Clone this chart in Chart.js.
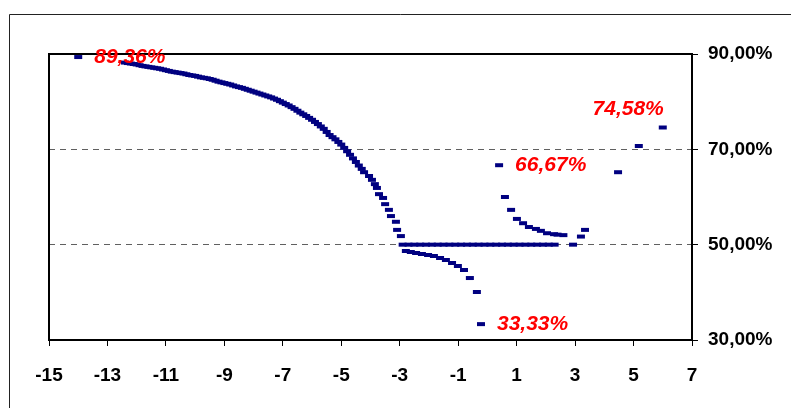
<!DOCTYPE html>
<html>
<head>
<meta charset="utf-8">
<script src="https://cdn.jsdelivr.net/npm/chart.js@4"></script>
<style>
  html, body { margin: 0; padding: 0; background: #fff; }
  #wrap { width: 791px; height: 408px; }
</style>
</head>
<body>
<div id="wrap"><canvas id="chart" width="791" height="408"></canvas></div>
<script>
// data
const firstX = [-14];
const firstY = [89.36];

const curveX = [-12.4, -12.3, -12.2, -12.1, -12.0, -11.9, -11.8, -11.7, -11.6, -11.5,
  -11.4, -11.3, -11.2, -11.1, -11.0, -10.9, -10.8, -10.7, -10.6, -10.5,
  -10.4, -10.3, -10.2, -10.1, -10.0, -9.9, -9.8, -9.7, -9.6, -9.5,
  -9.4, -9.3, -9.2, -9.1, -9.0, -8.9, -8.8, -8.7, -8.6, -8.5,
  -8.4, -8.3, -8.2, -8.1, -8.0, -7.9, -7.8, -7.7, -7.6, -7.5,
  -7.4, -7.3, -7.2, -7.1, -7.0, -6.9, -6.8, -6.7, -6.6, -6.5,
  -6.4, -6.3, -6.2, -6.1, -6.0, -5.9, -5.8, -5.7, -5.6, -5.5,
  -5.4, -5.3, -5.2, -5.1, -5.0, -4.9, -4.8, -4.7, -4.6, -4.5,
  -4.4, -4.3, -4.22,
  -4.05, -3.95, -3.85, -3.78, -3.71, -3.57, -3.50, -3.37, -3.30, -3.13, -3.09, -2.96];
const curveY = [88.2, 88.1, 88.0, 87.9, 87.8, 87.65, 87.5, 87.4, 87.3, 87.2,
  87.1, 87.0, 86.9, 86.75, 86.6, 86.45, 86.3, 86.2, 86.1, 86.0,
  85.9, 85.75, 85.6, 85.5, 85.4, 85.25, 85.1, 85.0, 84.9, 84.75,
  84.6, 84.4, 84.2, 84.05, 83.9, 83.75, 83.6, 83.4, 83.2, 83.05,
  82.9, 82.7, 82.5, 82.3, 82.1, 81.9, 81.7, 81.5, 81.3, 81.1,
  80.9, 80.65, 80.4, 80.1, 79.8, 79.5, 79.2, 78.85, 78.5, 78.1,
  77.7, 77.35, 77.0, 76.6, 76.2, 75.75, 75.3, 74.8, 74.3, 73.65,
  73.0, 72.55, 72.1, 71.55, 71.0, 70.3, 69.6, 68.85, 68.1, 67.35,
  66.6, 65.9, 65.2,
  64.4, 63.6, 62.7, 61.9, 60.6, 59.8, 58.5, 57.3, 56.0, 54.8, 53.1, 51.8];

const flatX = [-2.9, -2.7, -2.5, -2.3, -2.1, -1.9, -1.7, -1.5, -1.3, -1.1,
  -0.9, -0.7, -0.5, -0.3, -0.1, 0.1, 0.3, 0.5, 0.7, 0.9,
  1.1, 1.3, 1.5, 1.7, 1.9, 2.1, 2.3];
const flatY = [50, 50, 50, 50, 50, 50, 50, 50, 50, 50,
  50, 50, 50, 50, 50, 50, 50, 50, 50, 50,
  50, 50, 50, 50, 50, 50, 50];

const lowX = [-2.79, -2.62, -2.44, -2.24, -2.03, -1.83, -1.62, -1.42, -1.21, -1.01, -0.80, -0.60, -0.36, -0.22];
const lowY = [48.67, 48.46, 48.25, 48.04, 47.83, 47.62, 47.2, 46.78, 46.15, 45.52, 44.68, 43.0, 40.07, 33.33];

const rightX = [0.40, 0.60, 0.81, 1.01, 1.22, 1.42, 1.66, 1.83, 2.04, 2.28, 2.40, 2.60, 2.93, 3.20, 3.34, 4.47, 5.18, 6.0];
const rightY = [66.67, 60.0, 57.3, 55.4, 54.5, 53.7, 53.3, 52.9, 52.4, 52.2, 52.1, 52.0, 50.0, 51.7, 53.1, 65.2, 70.7, 74.58];

const xTicks = [-15, -13, -11, -9, -7, -5, -3, -1, 1, 3, 5, 7];
const yTicks = [30, 50, 70, 90];

// callouts
const calloutX = [-14, 0.40, -0.22, 6.0];
const calloutY = [89.36, 66.67, 33.33, 74.58];
const calloutText = ['89,36%', '66,67%', '33,33%', '74,58%'];

const pts = [];
[[firstX, firstY], [curveX, curveY], [flatX, flatY], [lowX, lowY], [rightX, rightY]].forEach(([xs, ys]) => {
  xs.forEach((x, i) => pts.push({x, y: ys[i]}));
});

const pctLabel = v => v.toFixed(2).replace('.', ',') + '%';

// frame of the plot area + outer chart border
const framePlugin = {
  id: 'frame',
  beforeDraw(chart) {
    const ctx = chart.ctx;
    ctx.save();
    ctx.strokeStyle = '#222';
    ctx.lineWidth = 1;
    ctx.beginPath();
    ctx.moveTo(9.5, 408);
    ctx.lineTo(9.5, 14.5);
    ctx.lineTo(791, 14.5);
    ctx.stroke();
    ctx.restore();
  },
  afterDatasetsDraw(chart) {
    const a = chart.chartArea, ctx = chart.ctx;
    ctx.save();
    ctx.strokeStyle = '#000';
    ctx.lineWidth = 2;
    ctx.strokeRect(a.left, a.top, a.right - a.left, a.bottom - a.top);
    ctx.restore();
  }
};

const calloutPlugin = {
  id: 'callouts',
  afterDatasetsDraw(chart) {
    const ctx = chart.ctx, sx = chart.scales.x, sy = chart.scales.y;
    ctx.save();
    ctx.font = 'italic bold 21px "Liberation Sans", Arial, sans-serif';
    ctx.fillStyle = '#ff0000';
    ctx.textBaseline = 'middle';
    calloutText.forEach((t, i) => {
      const px = sx.getPixelForValue(calloutX[i]);
      const py = sy.getPixelForValue(calloutY[i]);
      if (i === 3) {
        ctx.textAlign = 'right';
        ctx.fillText(t, px + 1, py - 18);
      } else {
        ctx.textAlign = 'left';
        ctx.fillText(t, px + 16, py);
      }
    });
    ctx.restore();
  }
};

new Chart(document.getElementById('chart'), {
  type: 'scatter',
  data: {
    datasets: [{
      data: pts,
      pointStyle: 'line',
      pointRadius: 4,
      pointBorderWidth: 4,
      borderColor: '#000080',
      backgroundColor: '#000080'
    }]
  },
  options: {
    responsive: false,
    animation: false,
    devicePixelRatio: 1,
    layout: {padding: {left: 49, top: 54, right: 0, bottom: 0}},
    plugins: {legend: {display: false}, tooltip: {enabled: false}},
    scales: {
      x: {
        type: 'linear',
        min: -15, max: 7,
        afterBuildTicks: s => { s.ticks = xTicks.map(v => ({value: v})); },
        afterFit: s => { s.height = 68; },
        border: {display: false},
        grid: {drawOnChartArea: false, tickLength: 6, tickColor: '#000', tickWidth: 1},
        ticks: {color: '#000', font: {family: '"Liberation Sans", Arial', size: 19, weight: 'bold'}, padding: 18, maxRotation: 0}
      },
      y: {
        type: 'linear',
        position: 'right',
        min: 30, max: 90,
        afterBuildTicks: s => { s.ticks = yTicks.map(v => ({value: v})); },
        afterFit: s => { s.width = 99; },
        border: {display: false, dash: [6, 5]},
        grid: {
          color: c => (c.tick && (c.tick.value === 50 || c.tick.value === 70)) ? '#606060' : 'rgba(0,0,0,0)',
          lineWidth: 1,
          tickLength: 6, tickColor: '#000', tickWidth: 1
        },
        ticks: {color: '#000', font: {family: '"Liberation Sans", Arial', size: 19, weight: 'bold'}, padding: 10, callback: pctLabel}
      }
    }
  },
  plugins: [framePlugin, calloutPlugin]
});
</script>
</body>
</html>
